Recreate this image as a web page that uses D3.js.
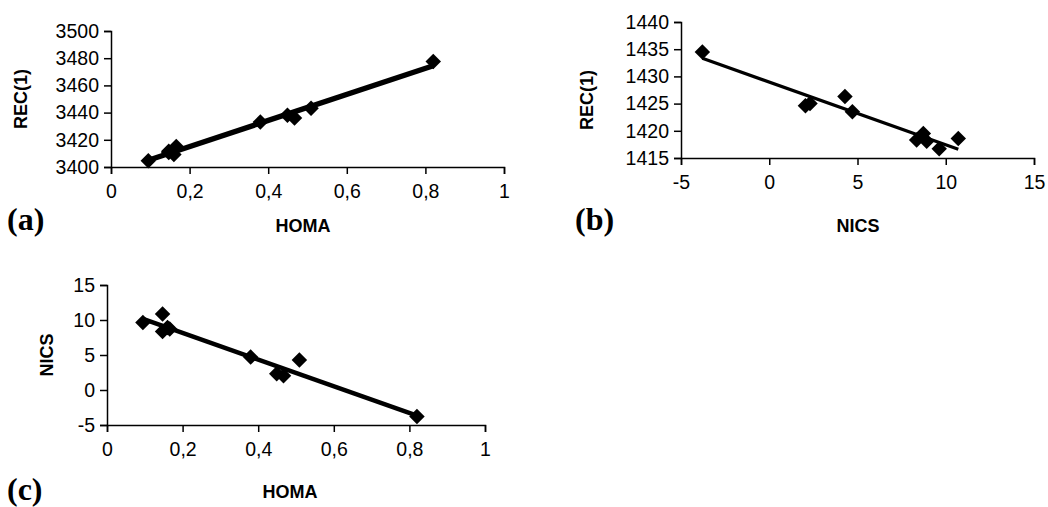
<!DOCTYPE html>
<html><head><meta charset="utf-8">
<script src="https://cdn.jsdelivr.net/npm/d3@7"></script>
<style>
html,body{margin:0;padding:0;background:#fff;}
svg{display:block;}
.tick text{font-family:"Liberation Sans",Arial,sans-serif;font-size:19.5px;fill:#000;}
.title{font-family:"Liberation Sans",Arial,sans-serif;font-size:18px;font-weight:bold;fill:#000;}
.plabel{font-family:"Liberation Serif","Times New Roman",serif;font-size:32px;font-weight:bold;fill:#000;}
</style></head>
<body>
<script>
// Panel (a): REC(1) vs HOMA
const homaA = [0.820, 0.467, 0.449, 0.509, 0.380, 0.147, 0.166, 0.160, 0.095, 0.147];
const recA  = [3477.5, 3436.0, 3438.0, 3443.2, 3433.0, 3410.6, 3415.1, 3409.2, 3404.6, 3411.5];
const xTicksA = [0, 0.2, 0.4, 0.6, 0.8, 1];
const yTicksA = [3400, 3420, 3440, 3460, 3480, 3500];

// Panel (b): REC(1) vs NICS
const nicsB = [-3.79, 2.05, 2.31, 4.29, 4.71, 8.35, 8.73, 8.92, 9.63, 10.71];
const recB  = [1434.5, 1424.6, 1425.0, 1426.3, 1423.5, 1418.3, 1419.5, 1418.1, 1416.7, 1418.6];
const xTicksB = [-5, 0, 5, 10, 15];
const yTicksB = [1415, 1420, 1425, 1430, 1435, 1440];

// Panel (c): NICS vs HOMA
const homaC = [0.820, 0.467, 0.449, 0.509, 0.380, 0.147, 0.166, 0.160, 0.095, 0.147];
const nicsC = [-3.79, 2.05, 2.31, 4.29, 4.71, 8.35, 8.73, 8.92, 9.63, 10.86];
const xTicksC = [0, 0.2, 0.4, 0.6, 0.8, 1];
const yTicksC = [-5, 0, 5, 10, 15];

const W = 1048, H = 507;
const svg = d3.select("body").append("svg").attr("width", W).attr("height", H);

const comma = v => String(v).replace(".", ",");

function fit(xs, ys) {
  const n = xs.length, mx = d3.mean(xs), my = d3.mean(ys);
  let sxy = 0, sxx = 0;
  for (let i = 0; i < n; i++) { sxy += (xs[i]-mx)*(ys[i]-my); sxx += (xs[i]-mx)**2; }
  const b = sxy/sxx; return {a: my - b*mx, b};
}

function panel(cfg) {
  const x = d3.scaleLinear().domain(cfg.xd).range(cfg.xr);
  const y = d3.scaleLinear().domain(cfg.yd).range(cfg.yr);
  const g = svg.append("g");
  const ax = g.append("g").attr("transform", `translate(0,${cfg.yr[0]})`)
    .call(d3.axisBottom(x).tickValues(cfg.xt).tickFormat(comma).tickSizeOuter(0).tickSize(7).tickPadding(10));
  const ay = g.append("g").attr("transform", `translate(${cfg.xr[0]},0)`)
    .call(d3.axisLeft(y).tickValues(cfg.yt).tickFormat(comma).tickSizeOuter(0).tickSize(7).tickPadding(5));
  [ax, ay].forEach(a => { a.selectAll("path,line").attr("stroke", "#000").attr("stroke-width", 1.5); });
  // regression line
  const f = fit(cfg.xs, cfg.ys);
  const x0 = d3.min(cfg.xs), x1 = d3.max(cfg.xs);
  g.append("line")
    .attr("x1", x(x0)).attr("y1", y(f.a + f.b*x0))
    .attr("x2", x(x1)).attr("y2", y(f.a + f.b*x1))
    .attr("stroke", "#000").attr("stroke-width", cfg.lw);
  // markers
  const sym = d3.symbol(d3.symbolSquare, 120);
  g.selectAll("path.pt").data(cfg.xs.map((v, i) => [v, cfg.ys[i]])).enter()
    .append("path").attr("class", "pt").attr("d", sym)
    .attr("transform", d => `translate(${x(d[0])},${y(d[1])}) rotate(45)`)
    .attr("fill", "#000");
  // titles
  g.append("text").attr("class", "title").attr("text-anchor", "middle")
    .attr("x", cfg.xtPos[0]).attr("y", cfg.xtPos[1]).text(cfg.xTitle);
  g.append("text").attr("class", "title").attr("text-anchor", "middle")
    .attr("transform", `translate(${cfg.ytPos[0]},${cfg.ytPos[1]}) rotate(-90)`)
    .attr("dy", "0.35em").text(cfg.yTitle);
  g.append("text").attr("class", "plabel").attr("x", cfg.pl[0]).attr("y", cfg.pl[1]).text(cfg.label);
}

panel({xd:[0,1], xr:[111,504], yd:[3400,3500], yr:[167,31], xt:xTicksA, yt:yTicksA,
  xs:homaA, ys:recA, lw:5.5, xTitle:"HOMA", yTitle:"REC(1)", xtPos:[303,232], ytPos:[21,99],
  label:"(a)", pl:[7,230]});
panel({xd:[-5,15], xr:[681,1034], yd:[1415,1440], yr:[158,22], xt:xTicksB, yt:yTicksB,
  xs:nicsB, ys:recB, lw:3.2, xTitle:"NICS", yTitle:"REC(1)", xtPos:[858,232], ytPos:[587,100],
  label:"(b)", pl:[575,230]});
panel({xd:[0,1], xr:[107,485], yd:[-5,15], yr:[425,285], xt:xTicksC, yt:yTicksC,
  xs:homaC, ys:nicsC, lw:4.5, xTitle:"HOMA", yTitle:"NICS", xtPos:[290,498], ytPos:[47,355],
  label:"(c)", pl:[7,500]});
</script>
</body></html>
